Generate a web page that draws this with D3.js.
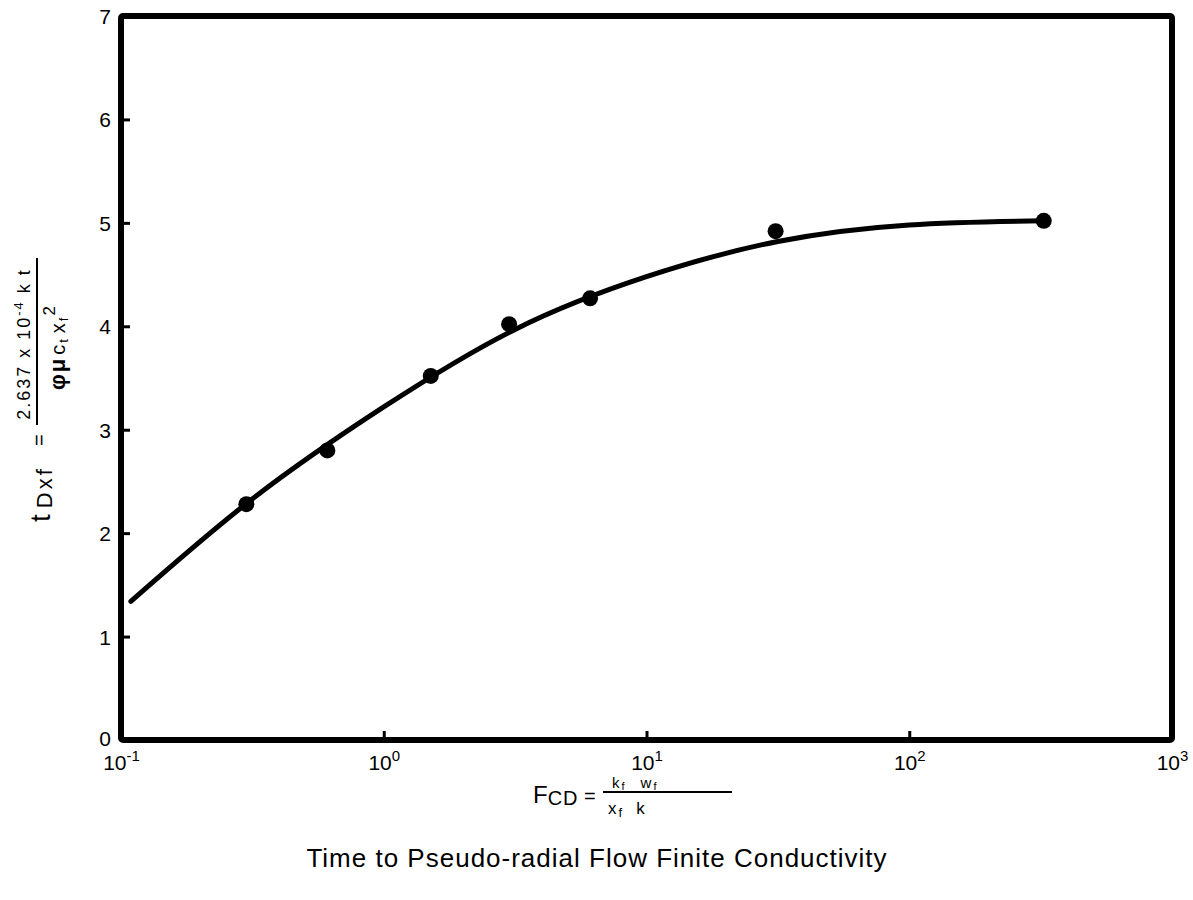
<!DOCTYPE html>
<html>
<head>
<meta charset="utf-8">
<script src="https://cdn.jsdelivr.net/npm/d3@7"></script>
<style>
  html, body { margin: 0; padding: 0; background: #fff; }
  svg { display: block; }
  text { font-family: "Liberation Sans", Arial, Helvetica, sans-serif; fill: #000; }
</style>
</head>
<body>
<svg id="chart" width="1193" height="900"></svg>
<script>
// Measured points: fracture conductivity vs dimensionless time to pseudo-radial flow
const fcdPoints  = [0.30, 0.61, 1.51, 3.0, 6.1, 31, 325];
const tdxfPoints = [2.28, 2.80, 3.52, 4.02, 4.27, 4.92, 5.02];

// Fitted trend curve
const curveFcd  = [0.109, 0.316, 1, 3.16, 10, 31.6, 100, 325];
const curveTdxf = [1.34, 2.33, 3.22, 3.97, 4.48, 4.82, 4.98, 5.02];

// Axis ticks
const xTicks = [0.1, 1, 10, 100, 1000];
const xExponents = ["-1", "0", "1", "2", "3"];
const yTicks = [0, 1, 2, 3, 4, 5, 6, 7];

const svg = d3.select("#chart");
const plotLeft = 121, plotRight = 1172, plotTop = 16, plotBottom = 740;

const x = d3.scaleLog().domain([0.1, 1000]).range([plotLeft, plotRight]);
const y = d3.scaleLinear().domain([0, 7]).range([plotBottom, plotTop]);

// Y axis ticks (inward) and labels
const yAxis = d3.axisLeft(y).tickValues(yTicks).tickSize(-9).tickPadding(10).tickFormat(d3.format("d"));
const gy = svg.append("g").attr("transform", `translate(${plotLeft},0)`).call(yAxis);
gy.select(".domain").remove();
gy.selectAll(".tick line").attr("stroke", "#000").attr("stroke-width", 3)
  .attr("display", d => (d === 0 || d === 7) ? "none" : null);
gy.selectAll(".tick text").attr("font-size", 21).attr("x", -10)
  .attr("y", d => d === 0 ? -2 : 0).attr("dy", "0.36em")
  .style("font-family", "'Liberation Sans', Arial, sans-serif");

// X axis ticks (inward) and power-of-ten labels
const xAxis = d3.axisBottom(x).tickValues(xTicks).tickSize(-9).tickFormat(() => "");
const gx = svg.append("g").attr("transform", `translate(0,${plotBottom})`).call(xAxis);
gx.select(".domain").remove();
gx.selectAll(".tick line").attr("stroke", "#000").attr("stroke-width", 3)
  .attr("display", (d, i) => (i === 0 || i === xTicks.length - 1) ? "none" : null);
gx.selectAll(".tick text").each(function(d, i) {
  const t = d3.select(this).attr("font-size", 21).attr("y", 30).attr("dy", null)
    .style("font-family", "'Liberation Sans', Arial, sans-serif");
  t.text(null);
  t.append("tspan").text("10");
  t.append("tspan").attr("font-size", 15).attr("dy", -9).text(xExponents[i]);
});

// Plot frame
svg.append("rect")
  .attr("x", plotLeft).attr("y", plotTop)
  .attr("width", plotRight - plotLeft).attr("height", plotBottom - plotTop)
  .attr("fill", "none").attr("stroke", "#000").attr("stroke-width", 6)
  .attr("stroke-linejoin", "round").attr("rx", 2);

// Trend curve
const line = d3.line()
  .x(d => x(d[0])).y(d => y(d[1]))
  .curve(d3.curveNatural);
svg.append("path")
  .datum(curveFcd.map((f, i) => [f, curveTdxf[i]]))
  .attr("d", line)
  .attr("fill", "none").attr("stroke", "#000").attr("stroke-width", 5)
  .attr("stroke-linecap", "round");

// Data points
svg.append("g").selectAll("circle")
  .data(fcdPoints.map((f, i) => [f, tdxfPoints[i]]))
  .join("circle")
  .attr("cx", d => x(d[0])).attr("cy", d => y(d[1]))
  .attr("r", 8).attr("fill", "#000");

// Y axis title: t_Dxf = 2.637 x 10^-4 k t / (phi mu c_t x_f^2), rotated
const yl = svg.append("g").attr("transform", "translate(50,522) rotate(-90)");
const tt = yl.append("text").attr("x", 0).attr("y", 0).attr("font-size", 28);
tt.append("tspan").text("t");
tt.append("tspan").attr("font-size", 22).attr("dx", 6).attr("dy", 2)
  .attr("letter-spacing", 3).text("Dxf");
yl.append("text").attr("x", 76).attr("y", -4).attr("font-size", 20).text("=");
yl.append("line").attr("x1", 97).attr("x2", 264).attr("y1", -13).attr("y2", -13)
  .attr("stroke", "#000").attr("stroke-width", 2);
const num = yl.append("text").attr("x", 178).attr("y", -20).attr("font-size", 18)
  .attr("text-anchor", "middle").attr("letter-spacing", 2);
num.append("tspan").text("2.637 x 10");
num.append("tspan").attr("font-size", 13).attr("dy", -7).text("-4");
num.append("tspan").attr("dy", 7).text(" k t");
const den = yl.append("text").attr("x", 175).attr("y", 15).attr("font-size", 20)
  .attr("text-anchor", "middle").attr("letter-spacing", 2);
den.append("tspan").attr("font-weight", "bold").attr("font-size", 22).text("φμ");
den.append("tspan").attr("dx", 2).text("c");
den.append("tspan").attr("font-size", 13).attr("dy", 3).text("t");
den.append("tspan").attr("dx", 4).attr("dy", -3).text("x");
den.append("tspan").attr("font-size", 13).attr("dy", 3).text("f");
den.append("tspan").attr("font-size", 17).attr("dy", -13).text("2");

// X axis title: F_CD = k_f w_f / (x_f k)
const xl = svg.append("g");
const fcd = xl.append("text").attr("x", 533).attr("y", 803).attr("font-size", 24);
fcd.append("tspan").text("F");
fcd.append("tspan").attr("font-size", 20).attr("dy", 2).attr("letter-spacing", 1).text("CD");
fcd.append("tspan").attr("font-size", 20).attr("dy", -2).text(" =");
xl.append("line").attr("x1", 603).attr("x2", 732).attr("y1", 792).attr("y2", 792)
  .attr("stroke", "#000").attr("stroke-width", 2);
const xn = xl.append("text").attr("x", 612).attr("y", 788).attr("font-size", 15);
xn.append("tspan").text("k");
xn.append("tspan").attr("font-size", 11).attr("dx", 2).attr("dy", 2).text("f");
xn.append("tspan").attr("dx", 16).attr("dy", -2).text("w");
xn.append("tspan").attr("font-size", 11).attr("dx", 2).attr("dy", 2).text("f");
const xd = xl.append("text").attr("x", 608).attr("y", 814).attr("font-size", 17);
xd.append("tspan").text("x");
xd.append("tspan").attr("font-size", 13).attr("dx", 2).attr("dy", 3).text("f");
xd.append("tspan").attr("dx", 14).attr("dy", -3).text("k");

// Caption
svg.append("text").attr("x", 597).attr("y", 867).attr("text-anchor", "middle")
  .attr("font-size", 26).attr("letter-spacing", 1)
  .text("Time to Pseudo-radial Flow Finite Conductivity");
</script>
</body>
</html>
